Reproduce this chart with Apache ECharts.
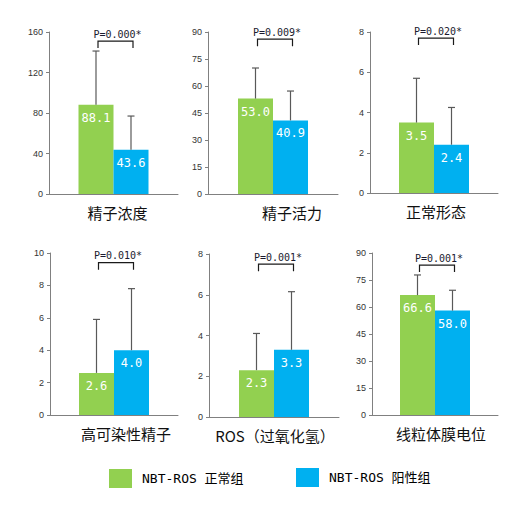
<!DOCTYPE html>
<html>
<head>
<meta charset="utf-8">
<script src="https://cdn.jsdelivr.net/npm/echarts@6/dist/echarts.min.js"></script>
<style>
  html, body { margin: 0; padding: 0; background: #fff; }
  #main { width: 514px; height: 506px; }
</style>
</head>
<body>
<div id="main"></div>
<script>
// indicator names, one per small chart
var panelNames = ['精子浓度', '精子活力', '正常形态', '高可染性精子', 'ROS（过氧化氢）', '线粒体膜电位'];
var groupNames = ['NBT-ROS 正常组', 'NBT-ROS 阳性组'];
// means and standard deviations
var normalMean = [88.1, 53.0, 3.5, 2.6, 2.3, 66.6];
var normalSD = [53.1, 17.0, 2.2, 3.3, 1.8, 11.2];
var positiveMean = [43.6, 40.9, 2.4, 4.0, 3.3, 58.0];
var positiveSD = [33.4, 16.3, 1.85, 3.8, 2.85, 11.3];
// significance
var pTexts = ['P=0.000*', 'P=0.009*', 'P=0.020*', 'P=0.010*', 'P=0.001*', 'P=0.001*'];
var bracketLevel = [151, 86, 7.7, 9.4, 7.5, 83.3];
// y axis ticks
var axisMax = [160, 90, 8, 10, 8, 90];
var axisStep = [40, 15, 2, 2, 2, 15];

// layout of the six small charts (pixels)
var layout = [
    { left: 49, top: 32, width: 129, height: 162, shift: 4 },
    { left: 208, top: 32, width: 130, height: 162, shift: 19 },
    { left: 370, top: 32, width: 128, height: 161, shift: 2 },
    { left: 50, top: 253, width: 128, height: 162, shift: 12 },
    { left: 209, top: 254, width: 130, height: 163, shift: 1 },
    { left: 372, top: 253, width: 126, height: 162, shift: 6 }
];

var GREEN = '#92D050';
var BLUE = '#00B0F0';
var BAR_W = 35;
var MONO = '"DejaVu Sans Mono", "Noto Sans CJK SC", monospace';

var chart = echarts.init(document.getElementById('main'), null, { renderer: 'svg' });

var grids = [], xAxes = [], yAxes = [], series = [];

function errorBarItem(params, api) {
    var side = api.value(2) === 0 ? -BAR_W / 2 : BAR_W / 2;
    var base = api.coord([0, api.value(0)]);
    var top = api.coord([0, api.value(1)]);
    var x = base[0] + side;
    return {
        type: 'group',
        children: [
            { type: 'line', shape: { x1: x, y1: base[1], x2: x, y2: top[1] }, style: { stroke: '#595959', lineWidth: 1.2 } },
            { type: 'line', shape: { x1: x - 3.5, y1: top[1], x2: x + 3.5, y2: top[1] }, style: { stroke: '#595959', lineWidth: 1.2 } }
        ]
    };
}

function bracketItem(params, api) {
    var p = api.coord([0, api.value(0)]);
    var xl = p[0] - BAR_W / 2 + 2;
    var xr = p[0] + BAR_W / 2 + 2;
    var y = p[1];
    return {
        type: 'group',
        children: [
            { type: 'polyline', shape: { points: [[xl, y + 7], [xl, y], [xr, y], [xr, y + 7]] }, style: { stroke: '#1a1a1a', lineWidth: 1.2, fill: null } },
            { type: 'text', x: (xl + xr) / 2 + 2, y: y - 7, style: {
                text: pTexts[api.value(1)],
                fill: '#1a1a2e', font: '10px ' + MONO,
                align: 'center', verticalAlign: 'middle'
            } }
        ]
    };
}

panelNames.forEach(function (name, i) {
    var L = layout[i];
    grids.push({ left: L.left, top: L.top, width: L.width, height: L.height });
    xAxes.push({
        type: 'category', gridIndex: i, data: [name],
        axisLine: { lineStyle: { color: '#808080', width: 1 } },
        axisTick: { show: false },
        axisLabel: { color: '#111', fontSize: 15, margin: 11, fontFamily: 'Noto Sans CJK SC', padding: [0, 0, 0, L.shift * 2] }
    });
    yAxes.push({
        type: 'value', gridIndex: i, min: 0, max: axisMax[i], interval: axisStep[i],
        splitLine: { show: false },
        axisLine: { show: true, lineStyle: { color: '#808080', width: 1 } },
        axisTick: { show: true, length: 3, lineStyle: { color: '#808080' } },
        axisLabel: { color: '#333', fontSize: 9, margin: 6, fontFamily: 'Liberation Sans' }
    });
    var label = {
        show: true, position: 'insideTop', distance: 7, color: '#fff',
        fontSize: 12, fontFamily: MONO,
        formatter: function (p) { return p.value.toFixed(1); }
    };
    series.push({
        name: groupNames[0], type: 'bar', xAxisIndex: i, yAxisIndex: i,
        data: [normalMean[i]], barWidth: BAR_W, barGap: '0%',
        itemStyle: { color: GREEN }, label: label
    });
    series.push({
        name: groupNames[1], type: 'bar', xAxisIndex: i, yAxisIndex: i,
        data: [positiveMean[i]], barWidth: BAR_W, barGap: '0%',
        itemStyle: { color: BLUE }, label: label
    });
    series.push({
        type: 'custom', xAxisIndex: i, yAxisIndex: i, z: 5, silent: true,
        renderItem: errorBarItem,
        encode: { x: -1, y: 1 },
        data: [
            [normalMean[i], normalMean[i] + normalSD[i], 0],
            [positiveMean[i], positiveMean[i] + positiveSD[i], 1]
        ]
    });
    series.push({
        type: 'custom', xAxisIndex: i, yAxisIndex: i, z: 6, silent: true,
        renderItem: bracketItem,
        encode: { x: -1, y: 0 },
        data: [[bracketLevel[i], i]]
    });
});

var legendText = { color: '#000', fontSize: 13, fontFamily: MONO, padding: [0, 0, 0, 5] };

var option = {
    backgroundColor: '#fff',
    animation: false,
    grid: grids,
    xAxis: xAxes,
    yAxis: yAxes,
    legend: [
        { data: [{ name: groupNames[0], icon: 'rect' }], left: 104, top: 464, itemWidth: 23, itemHeight: 19, textStyle: legendText },
        { data: [{ name: groupNames[1], icon: 'rect' }], left: 291, top: 463, itemWidth: 23, itemHeight: 19, textStyle: legendText }
    ],
    series: series
};

chart.setOption(option);
</script>
</body>
</html>
